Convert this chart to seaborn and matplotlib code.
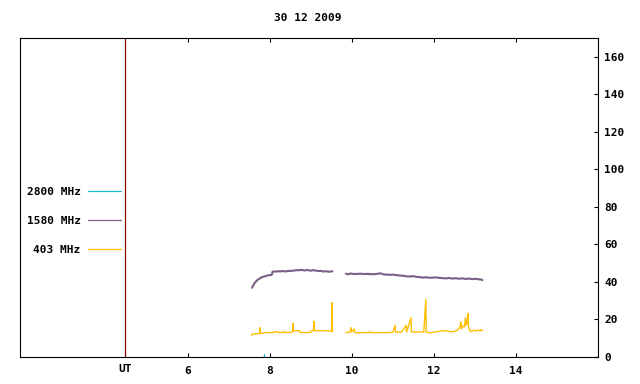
import pandas as pd
import matplotlib
matplotlib.use("Agg")
import matplotlib.pyplot as plt
import seaborn as sns

# date and bands
title = "30 12 2009"
bands = ["2800 MHz", "1580 MHz", "403 MHz"]
band_colors = ["#20b8c8", "#7a5f86", "#ffbf00"]

# 2800 MHz: only a tiny trace at the bottom
t_2800 = [7.85, 7.85]
v_2800 = [0.0, 1.5]

# 1580 MHz, two segments
t_1580_a = [7.56, 7.58, 7.60, 7.63, 7.66, 7.69, 7.72, 7.76, 7.80, 7.84, 7.88, 7.92,
            7.96, 8.00, 8.03, 8.05, 8.06, 8.10, 8.15, 8.20, 8.25, 8.30, 8.35, 8.40,
            8.45, 8.50, 8.55, 8.60, 8.65, 8.70, 8.75, 8.80, 8.85, 8.90, 8.95, 9.00,
            9.05, 9.10, 9.15, 9.20, 9.25, 9.30, 9.35, 9.40, 9.45, 9.50, 9.52]
v_1580_a = [36.9, 37.8, 38.6, 39.6, 40.3, 41.0, 41.5, 42.0, 42.5, 42.8, 43.0, 43.4,
            43.5, 43.6, 43.7, 44.2, 45.4, 45.6, 45.5, 45.7, 45.6, 45.8, 45.6, 45.7,
            45.9, 45.8, 46.0, 46.1, 46.3, 46.2, 46.4, 46.3, 46.1, 46.4, 46.2, 46.0,
            46.3, 46.1, 45.9, 45.8, 45.9, 45.5, 45.7, 45.6, 45.4, 45.7, 45.6]
t_1580_b = [9.85, 9.90, 9.97, 10.05, 10.13, 10.21, 10.29, 10.37, 10.45, 10.53, 10.61,
            10.69, 10.77, 10.85, 10.93, 11.01, 11.09, 11.17, 11.25, 11.33, 11.41, 11.49,
            11.57, 11.65, 11.73, 11.81, 11.89, 11.97, 12.05, 12.13, 12.21, 12.29, 12.37,
            12.45, 12.53, 12.61, 12.69, 12.77, 12.85, 12.93, 13.01, 13.09, 13.15, 13.18]
v_1580_b = [44.4, 44.1, 44.5, 44.2, 44.3, 44.4, 44.2, 44.3, 44.2, 44.1, 44.3,
            44.6, 44.0, 43.9, 43.8, 43.9, 43.6, 43.4, 43.3, 43.0, 42.9, 43.1,
            42.7, 42.6, 42.3, 42.5, 42.2, 42.3, 42.4, 42.2, 42.0, 41.9, 42.1,
            41.8, 42.0, 41.7, 41.9, 41.6, 41.8, 41.5, 41.7, 41.4, 41.3, 41.0]

# 403 MHz, two segments
t_403_a = [7.55, 7.57, 7.65, 7.75, 7.76, 7.77, 7.84, 7.86, 8.00, 8.10, 8.18, 8.19,
           8.30, 8.35, 8.36, 8.50, 8.55, 8.56, 8.57, 8.72, 8.73, 8.90, 9.00, 9.03,
           9.06, 9.07, 9.08, 9.20, 9.30, 9.40, 9.50, 9.51, 9.52]
v_403_a = [11.5, 12.3, 12.4, 12.5, 15.7, 12.6, 12.6, 13.0, 13.0, 13.1, 13.6, 13.0,
           13.1, 13.6, 13.0, 13.1, 13.4, 17.9, 14.0, 14.0, 13.1, 13.0, 13.3, 14.3,
           14.0, 18.9, 14.0, 14.1, 14.0, 14.0, 13.6, 28.9, 13.5]
t_403_b = [9.85, 9.92, 9.96, 9.97, 9.98, 10.02, 10.05, 10.06, 10.08, 10.40, 10.45,
           10.46, 10.90, 11.00, 11.05, 11.06, 11.20, 11.32, 11.33, 11.44, 11.45, 11.60,
           11.75, 11.80, 11.81, 11.90, 12.00, 12.10, 12.20, 12.30, 12.40, 12.50, 12.58,
           12.62, 12.66, 12.67, 12.70, 12.74, 12.77, 12.78, 12.81, 12.83, 12.84, 12.88,
           12.92, 12.97, 13.02, 13.07, 13.12, 13.16, 13.18]
v_403_b = [13.0, 13.1, 13.3, 15.6, 13.5, 14.0, 15.0, 13.4, 13.0, 13.0, 13.5,
           13.0, 13.0, 13.3, 16.8, 13.3, 13.2, 16.8, 13.3, 20.9, 13.4, 13.3,
           13.4, 30.7, 13.3, 12.9, 13.2, 13.6, 14.0, 14.0, 13.4, 13.6, 14.5,
           15.5, 18.9, 15.0, 16.5, 16.0, 20.9, 17.0, 18.0, 23.2, 16.0, 14.0,
           13.5, 14.3, 13.8, 14.4, 14.0, 14.6, 14.0]

x_ticks = [6, 8, 10, 12, 14]
y_ticks = [0, 20, 40, 60, 80, 100, 120, 140, 160]
ut_pos = 4.46


def seg(t, v, band, n):
    return pd.DataFrame({"t": t, "v": v, "band": band, "seg": n})


df = pd.concat([
    seg(t_2800, v_2800, bands[0], 0),
    seg(t_1580_a, v_1580_a, bands[1], 1),
    seg(t_1580_b, v_1580_b, bands[1], 2),
    seg(t_403_a, v_403_a, bands[2], 3),
    seg(t_403_b, v_403_b, bands[2], 4),
], ignore_index=True)

sns.set_style("white")
plt.rcParams['font.family'] = ['DejaVu Sans Mono']
plt.rcParams['font.weight'] = 'bold'
plt.rcParams['text.color'] = 'black'

fig = plt.figure(figsize=(6.4, 3.84), dpi=100)
ax = fig.add_axes([20 / 640, 27 / 384, 578 / 640, 319 / 384])

sns.lineplot(data=df, x="t", y="v", hue="band", hue_order=bands,
             palette=dict(zip(bands, band_colors)), units="seg",
             estimator=None, sort=False, linewidth=1.0, ax=ax)
# purple trace looks a bit heavier in the original
for ln in ax.get_lines():
    if ln.get_color() == band_colors[1]:
        ln.set_linewidth(1.5)

ax.axvline(ut_pos, color="#800000", linewidth=0.9)

ax.set_xlim(1.9, 16.0)
ax.set_ylim(0, 170)
ax.set_xticks(x_ticks)
ax.set_yticks(y_ticks)
ax.set_xlabel("")
ax.set_ylabel("")
ax.yaxis.tick_right()
ax.tick_params(axis="y", direction="in", length=3, width=0.8, pad=4.5,
               left=False, right=True, labelsize=8, colors="black")
ax.tick_params(axis="x", direction="in", length=3, width=0.8, pad=6.5,
               top=True, bottom=True, labelsize=8, colors="black")
for s in ax.spines.values():
    s.set_color("black")
    s.set_linewidth(0.8)

ax.annotate("UT", xy=(ut_pos, 0), xycoords=("data", "axes fraction"),
            xytext=(0, -5), textcoords="offset points",
            ha="center", va="top", fontsize=8, fontweight="bold", color="black")

handles, labels = ax.get_legend_handles_labels()
for h in handles:
    h.set_linewidth(0.9)
ax.legend(handles, labels, loc="center right", bbox_to_anchor=(0.174, 0.427),
          frameon=False, markerfirst=False, handlelength=2.9, handletextpad=0.7,
          labelspacing=1.7, borderpad=0, borderaxespad=0, fontsize=8,
          labelcolor="black")

fig.text(0.481, 0.952, title, ha="center", va="center", fontsize=8,
         fontweight="bold", color="black")

fig.savefig("out.png", dpi=100)
